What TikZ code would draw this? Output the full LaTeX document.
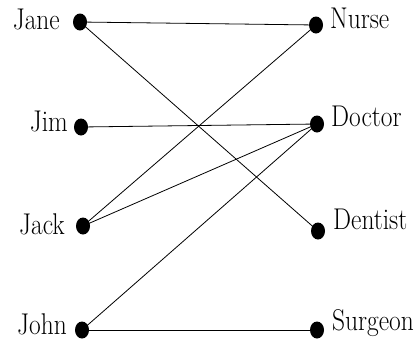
\documentclass[tikz,border=0pt]{standalone}
\usepackage{graphicx}
\usetikzlibrary{shapes.geometric}
\begin{document}
\begin{tikzpicture}[x=1pt,y=-1pt,
  dot/.style={ellipse,fill=black,inner sep=0pt,minimum width=14pt,minimum height=17pt},
  lbl/.style={inner sep=0pt,font=\fontsize{24}{28}\selectfont},
  edge/.style={draw=black,line width=0.8pt}]
\newcommand{\lt}[1]{\scalebox{1.06}[1.25]{#1}}
\useasboundingbox (0,0) rectangle (420,341);
\node[dot] (jane) at (80,22) {};
\node[dot] (jim) at (81,127) {};
\node[dot] (jack) at (83,226) {};
\node[dot] (john) at (82,330) {};
\node[dot] (nurse) at (316,25) {};
\node[dot] (doctor) at (317,124) {};
\node[dot] (dentist) at (318,231) {};
\node[dot] (surgeon) at (317,330) {};
\node[lbl,anchor=base east] (ljane) at (60,29) {\lt{Jane}};
\node[lbl,anchor=base east] (ljim) at (68,131) {\lt{Jim}};
\node[lbl,anchor=base east] (ljack) at (65,234) {\lt{Jack}};
\node[lbl,anchor=base east] (ljohn) at (67,334) {\lt{John}};
\node[lbl,anchor=base west] (lnurse) at (330,28) {\lt{Nurse}};
\node[lbl,anchor=base west] (ldoctor) at (331,126) {\lt{Doctor}};
\node[lbl,anchor=base west] (ldentist) at (333,229) {\lt{Dentist}};
\node[lbl,anchor=base west] (lsurgeon) at (332,330) {\lt{Surgeon}};
\draw[edge] (jane.center) -- (nurse.center);
\draw[edge] (jane.center) -- (dentist.center);
\draw[edge] (jim.center) -- (doctor.center);
\draw[edge] (jack.center) -- (nurse.center);
\draw[edge] (jack.center) -- (doctor.center);
\draw[edge] (john.center) -- (doctor.center);
\draw[edge] (john.center) -- (surgeon.center);
\end{tikzpicture}
\end{document}
